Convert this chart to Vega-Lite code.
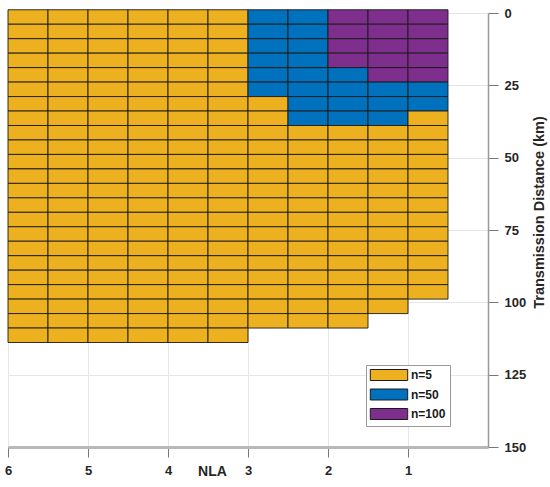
{
  "$schema": "https://vega.github.io/schema/vega-lite/v6.json",
  "width": 480,
  "height": 434,
  "autosize": {"type": "none"},
  "padding": {"left": 8, "top": 13, "right": 62, "bottom": 40},
  "background": "white",
  "config": {"view": {"stroke": null}, "font": "Liberation Sans"},
  "data": {"values": [
    {"c":5.75,"d":0,"n":"n=5"},{"c":5.75,"d":5,"n":"n=5"},{"c":5.75,"d":10,"n":"n=5"},{"c":5.75,"d":15,"n":"n=5"},{"c":5.75,"d":20,"n":"n=5"},{"c":5.75,"d":25,"n":"n=5"},{"c":5.75,"d":30,"n":"n=5"},{"c":5.75,"d":35,"n":"n=5"},{"c":5.75,"d":40,"n":"n=5"},{"c":5.75,"d":45,"n":"n=5"},{"c":5.75,"d":50,"n":"n=5"},{"c":5.75,"d":55,"n":"n=5"},{"c":5.75,"d":60,"n":"n=5"},{"c":5.75,"d":65,"n":"n=5"},{"c":5.75,"d":70,"n":"n=5"},{"c":5.75,"d":75,"n":"n=5"},{"c":5.75,"d":80,"n":"n=5"},{"c":5.75,"d":85,"n":"n=5"},{"c":5.75,"d":90,"n":"n=5"},{"c":5.75,"d":95,"n":"n=5"},{"c":5.75,"d":100,"n":"n=5"},{"c":5.75,"d":105,"n":"n=5"},{"c":5.75,"d":110,"n":"n=5"},
    {"c":5.25,"d":0,"n":"n=5"},{"c":5.25,"d":5,"n":"n=5"},{"c":5.25,"d":10,"n":"n=5"},{"c":5.25,"d":15,"n":"n=5"},{"c":5.25,"d":20,"n":"n=5"},{"c":5.25,"d":25,"n":"n=5"},{"c":5.25,"d":30,"n":"n=5"},{"c":5.25,"d":35,"n":"n=5"},{"c":5.25,"d":40,"n":"n=5"},{"c":5.25,"d":45,"n":"n=5"},{"c":5.25,"d":50,"n":"n=5"},{"c":5.25,"d":55,"n":"n=5"},{"c":5.25,"d":60,"n":"n=5"},{"c":5.25,"d":65,"n":"n=5"},{"c":5.25,"d":70,"n":"n=5"},{"c":5.25,"d":75,"n":"n=5"},{"c":5.25,"d":80,"n":"n=5"},{"c":5.25,"d":85,"n":"n=5"},{"c":5.25,"d":90,"n":"n=5"},{"c":5.25,"d":95,"n":"n=5"},{"c":5.25,"d":100,"n":"n=5"},{"c":5.25,"d":105,"n":"n=5"},{"c":5.25,"d":110,"n":"n=5"},
    {"c":4.75,"d":0,"n":"n=5"},{"c":4.75,"d":5,"n":"n=5"},{"c":4.75,"d":10,"n":"n=5"},{"c":4.75,"d":15,"n":"n=5"},{"c":4.75,"d":20,"n":"n=5"},{"c":4.75,"d":25,"n":"n=5"},{"c":4.75,"d":30,"n":"n=5"},{"c":4.75,"d":35,"n":"n=5"},{"c":4.75,"d":40,"n":"n=5"},{"c":4.75,"d":45,"n":"n=5"},{"c":4.75,"d":50,"n":"n=5"},{"c":4.75,"d":55,"n":"n=5"},{"c":4.75,"d":60,"n":"n=5"},{"c":4.75,"d":65,"n":"n=5"},{"c":4.75,"d":70,"n":"n=5"},{"c":4.75,"d":75,"n":"n=5"},{"c":4.75,"d":80,"n":"n=5"},{"c":4.75,"d":85,"n":"n=5"},{"c":4.75,"d":90,"n":"n=5"},{"c":4.75,"d":95,"n":"n=5"},{"c":4.75,"d":100,"n":"n=5"},{"c":4.75,"d":105,"n":"n=5"},{"c":4.75,"d":110,"n":"n=5"},
    {"c":4.25,"d":0,"n":"n=5"},{"c":4.25,"d":5,"n":"n=5"},{"c":4.25,"d":10,"n":"n=5"},{"c":4.25,"d":15,"n":"n=5"},{"c":4.25,"d":20,"n":"n=5"},{"c":4.25,"d":25,"n":"n=5"},{"c":4.25,"d":30,"n":"n=5"},{"c":4.25,"d":35,"n":"n=5"},{"c":4.25,"d":40,"n":"n=5"},{"c":4.25,"d":45,"n":"n=5"},{"c":4.25,"d":50,"n":"n=5"},{"c":4.25,"d":55,"n":"n=5"},{"c":4.25,"d":60,"n":"n=5"},{"c":4.25,"d":65,"n":"n=5"},{"c":4.25,"d":70,"n":"n=5"},{"c":4.25,"d":75,"n":"n=5"},{"c":4.25,"d":80,"n":"n=5"},{"c":4.25,"d":85,"n":"n=5"},{"c":4.25,"d":90,"n":"n=5"},{"c":4.25,"d":95,"n":"n=5"},{"c":4.25,"d":100,"n":"n=5"},{"c":4.25,"d":105,"n":"n=5"},{"c":4.25,"d":110,"n":"n=5"},
    {"c":3.75,"d":0,"n":"n=5"},{"c":3.75,"d":5,"n":"n=5"},{"c":3.75,"d":10,"n":"n=5"},{"c":3.75,"d":15,"n":"n=5"},{"c":3.75,"d":20,"n":"n=5"},{"c":3.75,"d":25,"n":"n=5"},{"c":3.75,"d":30,"n":"n=5"},{"c":3.75,"d":35,"n":"n=5"},{"c":3.75,"d":40,"n":"n=5"},{"c":3.75,"d":45,"n":"n=5"},{"c":3.75,"d":50,"n":"n=5"},{"c":3.75,"d":55,"n":"n=5"},{"c":3.75,"d":60,"n":"n=5"},{"c":3.75,"d":65,"n":"n=5"},{"c":3.75,"d":70,"n":"n=5"},{"c":3.75,"d":75,"n":"n=5"},{"c":3.75,"d":80,"n":"n=5"},{"c":3.75,"d":85,"n":"n=5"},{"c":3.75,"d":90,"n":"n=5"},{"c":3.75,"d":95,"n":"n=5"},{"c":3.75,"d":100,"n":"n=5"},{"c":3.75,"d":105,"n":"n=5"},{"c":3.75,"d":110,"n":"n=5"},
    {"c":3.25,"d":0,"n":"n=5"},{"c":3.25,"d":5,"n":"n=5"},{"c":3.25,"d":10,"n":"n=5"},{"c":3.25,"d":15,"n":"n=5"},{"c":3.25,"d":20,"n":"n=5"},{"c":3.25,"d":25,"n":"n=5"},{"c":3.25,"d":30,"n":"n=5"},{"c":3.25,"d":35,"n":"n=5"},{"c":3.25,"d":40,"n":"n=5"},{"c":3.25,"d":45,"n":"n=5"},{"c":3.25,"d":50,"n":"n=5"},{"c":3.25,"d":55,"n":"n=5"},{"c":3.25,"d":60,"n":"n=5"},{"c":3.25,"d":65,"n":"n=5"},{"c":3.25,"d":70,"n":"n=5"},{"c":3.25,"d":75,"n":"n=5"},{"c":3.25,"d":80,"n":"n=5"},{"c":3.25,"d":85,"n":"n=5"},{"c":3.25,"d":90,"n":"n=5"},{"c":3.25,"d":95,"n":"n=5"},{"c":3.25,"d":100,"n":"n=5"},{"c":3.25,"d":105,"n":"n=5"},{"c":3.25,"d":110,"n":"n=5"},
    {"c":2.75,"d":0,"n":"n=50"},{"c":2.75,"d":5,"n":"n=50"},{"c":2.75,"d":10,"n":"n=50"},{"c":2.75,"d":15,"n":"n=50"},{"c":2.75,"d":20,"n":"n=50"},{"c":2.75,"d":25,"n":"n=50"},{"c":2.75,"d":30,"n":"n=5"},{"c":2.75,"d":35,"n":"n=5"},{"c":2.75,"d":40,"n":"n=5"},{"c":2.75,"d":45,"n":"n=5"},{"c":2.75,"d":50,"n":"n=5"},{"c":2.75,"d":55,"n":"n=5"},{"c":2.75,"d":60,"n":"n=5"},{"c":2.75,"d":65,"n":"n=5"},{"c":2.75,"d":70,"n":"n=5"},{"c":2.75,"d":75,"n":"n=5"},{"c":2.75,"d":80,"n":"n=5"},{"c":2.75,"d":85,"n":"n=5"},{"c":2.75,"d":90,"n":"n=5"},{"c":2.75,"d":95,"n":"n=5"},{"c":2.75,"d":100,"n":"n=5"},{"c":2.75,"d":105,"n":"n=5"},
    {"c":2.25,"d":0,"n":"n=50"},{"c":2.25,"d":5,"n":"n=50"},{"c":2.25,"d":10,"n":"n=50"},{"c":2.25,"d":15,"n":"n=50"},{"c":2.25,"d":20,"n":"n=50"},{"c":2.25,"d":25,"n":"n=50"},{"c":2.25,"d":30,"n":"n=50"},{"c":2.25,"d":35,"n":"n=50"},{"c":2.25,"d":40,"n":"n=5"},{"c":2.25,"d":45,"n":"n=5"},{"c":2.25,"d":50,"n":"n=5"},{"c":2.25,"d":55,"n":"n=5"},{"c":2.25,"d":60,"n":"n=5"},{"c":2.25,"d":65,"n":"n=5"},{"c":2.25,"d":70,"n":"n=5"},{"c":2.25,"d":75,"n":"n=5"},{"c":2.25,"d":80,"n":"n=5"},{"c":2.25,"d":85,"n":"n=5"},{"c":2.25,"d":90,"n":"n=5"},{"c":2.25,"d":95,"n":"n=5"},{"c":2.25,"d":100,"n":"n=5"},{"c":2.25,"d":105,"n":"n=5"},
    {"c":1.75,"d":0,"n":"n=100"},{"c":1.75,"d":5,"n":"n=100"},{"c":1.75,"d":10,"n":"n=100"},{"c":1.75,"d":15,"n":"n=100"},{"c":1.75,"d":20,"n":"n=50"},{"c":1.75,"d":25,"n":"n=50"},{"c":1.75,"d":30,"n":"n=50"},{"c":1.75,"d":35,"n":"n=50"},{"c":1.75,"d":40,"n":"n=5"},{"c":1.75,"d":45,"n":"n=5"},{"c":1.75,"d":50,"n":"n=5"},{"c":1.75,"d":55,"n":"n=5"},{"c":1.75,"d":60,"n":"n=5"},{"c":1.75,"d":65,"n":"n=5"},{"c":1.75,"d":70,"n":"n=5"},{"c":1.75,"d":75,"n":"n=5"},{"c":1.75,"d":80,"n":"n=5"},{"c":1.75,"d":85,"n":"n=5"},{"c":1.75,"d":90,"n":"n=5"},{"c":1.75,"d":95,"n":"n=5"},{"c":1.75,"d":100,"n":"n=5"},{"c":1.75,"d":105,"n":"n=5"},
    {"c":1.25,"d":0,"n":"n=100"},{"c":1.25,"d":5,"n":"n=100"},{"c":1.25,"d":10,"n":"n=100"},{"c":1.25,"d":15,"n":"n=100"},{"c":1.25,"d":20,"n":"n=100"},{"c":1.25,"d":25,"n":"n=50"},{"c":1.25,"d":30,"n":"n=50"},{"c":1.25,"d":35,"n":"n=50"},{"c":1.25,"d":40,"n":"n=5"},{"c":1.25,"d":45,"n":"n=5"},{"c":1.25,"d":50,"n":"n=5"},{"c":1.25,"d":55,"n":"n=5"},{"c":1.25,"d":60,"n":"n=5"},{"c":1.25,"d":65,"n":"n=5"},{"c":1.25,"d":70,"n":"n=5"},{"c":1.25,"d":75,"n":"n=5"},{"c":1.25,"d":80,"n":"n=5"},{"c":1.25,"d":85,"n":"n=5"},{"c":1.25,"d":90,"n":"n=5"},{"c":1.25,"d":95,"n":"n=5"},{"c":1.25,"d":100,"n":"n=5"},
    {"c":0.75,"d":0,"n":"n=100"},{"c":0.75,"d":5,"n":"n=100"},{"c":0.75,"d":10,"n":"n=100"},{"c":0.75,"d":15,"n":"n=100"},{"c":0.75,"d":20,"n":"n=100"},{"c":0.75,"d":25,"n":"n=50"},{"c":0.75,"d":30,"n":"n=50"},{"c":0.75,"d":35,"n":"n=5"},{"c":0.75,"d":40,"n":"n=5"},{"c":0.75,"d":45,"n":"n=5"},{"c":0.75,"d":50,"n":"n=5"},{"c":0.75,"d":55,"n":"n=5"},{"c":0.75,"d":60,"n":"n=5"},{"c":0.75,"d":65,"n":"n=5"},{"c":0.75,"d":70,"n":"n=5"},{"c":0.75,"d":75,"n":"n=5"},{"c":0.75,"d":80,"n":"n=5"},{"c":0.75,"d":85,"n":"n=5"},{"c":0.75,"d":90,"n":"n=5"},{"c":0.75,"d":95,"n":"n=5"}
  ]},
  "mark": {"type": "rect", "width": 40, "height": 14.47, "yOffset": 4, "stroke": "#1a1a1a", "strokeWidth": 0.9, "opacity": 1},
  "encoding": {
    "x": {
      "field": "c", "type": "quantitative",
      "scale": {"domain": [0, 6], "reverse": true, "nice": false, "zero": false},
      "axis": {
        "values": [6, 5, 4, 3, 2, 1], "format": "d",
        "title": "NLA", "titleX": 204, "titleY": 24, "titleAlign": "center", "titleBaseline": "middle",
        "titleFontSize": 14, "titleFontWeight": "bold", "titleColor": "#262626",
        "labelFontSize": 13, "labelFontWeight": "bold", "labelColor": "#262626", "labelPadding": 7, "labelFlush": false,
        "tickSize": 10, "tickColor": "#777777", "tickWidth": 1,
        "domainColor": "#b8b8b8", "domainWidth": 3,
        "grid": true, "gridColor": "#e6e6e6", "gridWidth": 1
      }
    },
    "y": {
      "field": "d", "type": "quantitative",
      "scale": {"domain": [0, 150], "reverse": true, "nice": false, "zero": false},
      "axis": {
        "orient": "right", "values": [0, 25, 50, 75, 100, 125, 150],
        "title": "Transmission Distance (km)", "titleAngle": 270, "titleX": 51, "titleY": 199, "titleAlign": "center", "titleBaseline": "middle",
        "titleFontSize": 14.5, "titleFontWeight": "bold", "titleColor": "#262626",
        "labelFontSize": 13, "labelFontWeight": "bold", "labelColor": "#262626", "labelPadding": 6, "labelFlush": false,
        "tickSize": 10, "tickColor": "#777777", "tickWidth": 1,
        "domainColor": "#999999", "domainWidth": 1.5,
        "grid": true, "gridColor": "#e6e6e6", "gridWidth": 1
      }
    },
    "color": {
      "field": "n", "type": "nominal",
      "scale": {"domain": ["n=5", "n=50", "n=100"], "range": ["#EDB120", "#0072BD", "#7E2F8E"]},
      "legend": {
        "orient": "none", "legendX": 358, "legendY": 352, "title": null,
        "symbolType": "M-3.4,-1H3.4V1H-3.4Z", "symbolSize": 121, "symbolOffset": 13, "symbolStrokeColor": "#1a1a1a", "symbolStrokeWidth": 1, "symbolOpacity": 1,
        "labelFontSize": 12, "labelFontWeight": "bold", "labelColor": "#1a1a1a", "labelOffset": 16,
        "strokeColor": "#999999", "fillColor": "white", "padding": 4, "rowPadding": 3.5
      }
    }
  }
}
